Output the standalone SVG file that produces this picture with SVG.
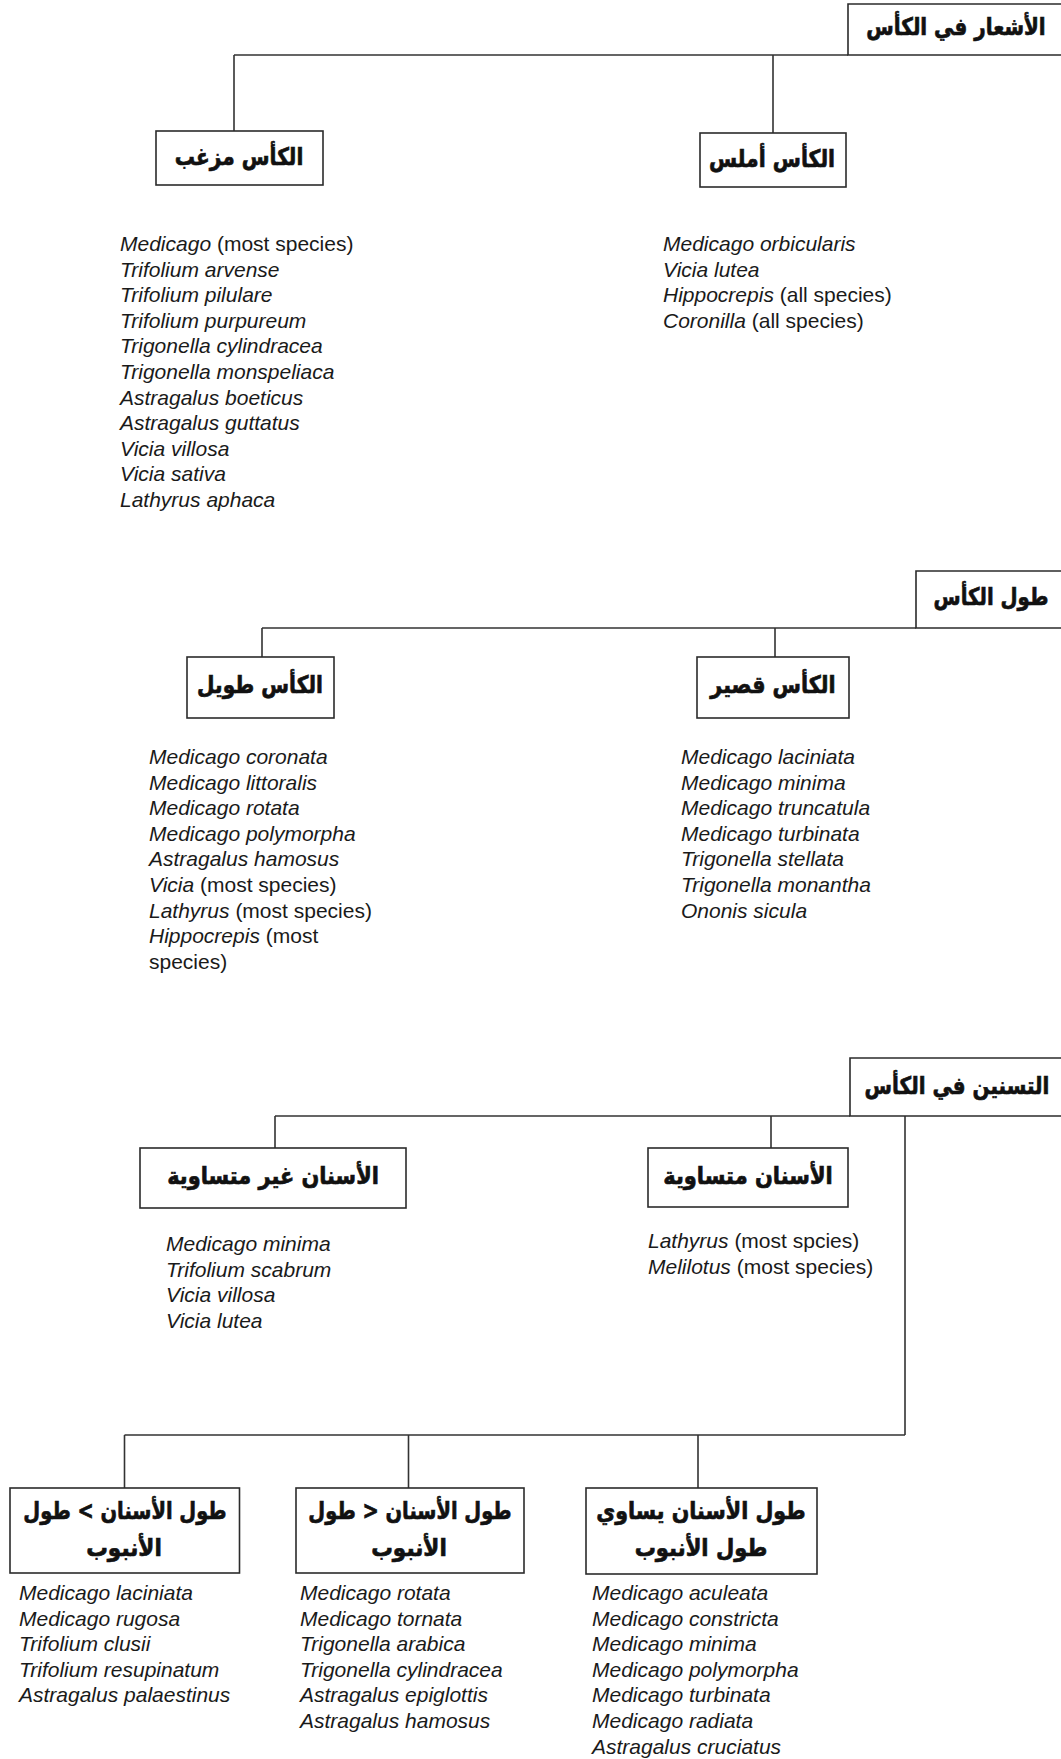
<svg xmlns="http://www.w3.org/2000/svg" width="1061" height="1759" viewBox="0 0 1061 1759">
<style>
.box{fill:#fff;stroke:#2b2b2b;stroke-width:1.6}
.ln{fill:none;stroke:#333;stroke-width:1.6}
.ar{font-family:"DejaVu Sans","Noto Sans",sans-serif;font-weight:bold;font-size:24px;fill:#111;stroke:#111;stroke-width:0.7;text-anchor:middle}
.rtl{direction:rtl}
.sp{font-family:"Liberation Sans",Arial,sans-serif;font-size:21px;font-style:italic;fill:#1a1a1a}
.n{font-style:normal}
</style>
<rect width="1061" height="1759" fill="#fff"/>
<g id="connectors">
<path class="ln" d="M234 55H848M234 55V131M773 55V133"/>
<path class="ln" d="M262 628H916M262 628V657M775 628V657"/>
<path class="ln" d="M275 1116H850M275 1116V1148M771 1116V1148M905 1116V1435M124.5 1435H905M124.5 1435V1488M408.5 1435V1488M698 1435V1488"/>
</g>
<g id="n-hair">
<path class="box" d="M1061 4H848V55H1061"/>
<text class="ar" transform="translate(956 35) scale(0.83 1)">الأشعار في الكأس</text>
</g>
<g id="n-hairy">
<rect class="box" x="156" y="131" width="167" height="54"/>
<text class="ar" transform="translate(239 165) scale(0.84 1)">الكأس مزغب</text>
</g>
<g id="n-smooth">
<rect class="box" x="700" y="133" width="146" height="54"/>
<text class="ar" transform="translate(772 167) scale(0.85 1)">الكأس أملس</text>
</g>
<g id="list-hairy" class="sp">
<text x="120" y="251"><tspan>Medicago</tspan><tspan class="n"> (most species)</tspan></text>
<text x="120" y="276.6">Trifolium arvense</text>
<text x="120" y="302.2">Trifolium pilulare</text>
<text x="120" y="327.8">Trifolium purpureum</text>
<text x="120" y="353.4">Trigonella cylindracea</text>
<text x="120" y="379">Trigonella monspeliaca</text>
<text x="120" y="404.6">Astragalus boeticus</text>
<text x="120" y="430.2">Astragalus guttatus</text>
<text x="120" y="455.8">Vicia villosa</text>
<text x="120" y="481.4">Vicia sativa</text>
<text x="120" y="507">Lathyrus aphaca</text>
</g>
<g id="list-smooth" class="sp">
<text x="663" y="251">Medicago orbicularis</text>
<text x="663" y="276.6">Vicia lutea</text>
<text x="663" y="302.2"><tspan>Hippocrepis</tspan><tspan class="n"> (all species)</tspan></text>
<text x="663" y="327.8"><tspan>Coronilla</tspan><tspan class="n"> (all species)</tspan></text>
</g>
<g id="n-length">
<path class="box" d="M1061 571H916V628H1061"/>
<text class="ar" transform="translate(991 605) scale(0.82 1)">طول الكأس</text>
</g>
<g id="n-long">
<rect class="box" x="187" y="657" width="147" height="61"/>
<text class="ar" transform="translate(260 693) scale(0.84 1)">الكأس طويل</text>
</g>
<g id="n-short">
<rect class="box" x="697" y="657" width="152" height="61"/>
<text class="ar" transform="translate(773 693) scale(0.86 1)">الكأس قصير</text>
</g>
<g id="list-long" class="sp">
<text x="149" y="764">Medicago coronata</text>
<text x="149" y="789.6">Medicago littoralis</text>
<text x="149" y="815.2">Medicago rotata</text>
<text x="149" y="840.8">Medicago polymorpha</text>
<text x="149" y="866.4">Astragalus hamosus</text>
<text x="149" y="892"><tspan>Vicia</tspan><tspan class="n"> (most species)</tspan></text>
<text x="149" y="917.6"><tspan>Lathyrus</tspan><tspan class="n"> (most species)</tspan></text>
<text x="149" y="943.2"><tspan>Hippocrepis</tspan><tspan class="n"> (most</tspan></text>
<text x="149" y="968.8" class="n">species)</text>
</g>
<g id="list-short" class="sp">
<text x="681" y="764">Medicago laciniata</text>
<text x="681" y="789.6">Medicago minima</text>
<text x="681" y="815.2">Medicago truncatula</text>
<text x="681" y="840.8">Medicago turbinata</text>
<text x="681" y="866.4">Trigonella stellata</text>
<text x="681" y="892">Trigonella monantha</text>
<text x="681" y="917.6">Ononis sicula</text>
</g>
<g id="n-teeth">
<path class="box" d="M1061 1058H850V1116H1061"/>
<text class="ar" transform="translate(957 1094) scale(0.83 1)">التسنين في الكأس</text>
</g>
<g id="n-unequal">
<rect class="box" x="140" y="1148" width="266" height="60"/>
<text class="ar" transform="translate(273 1184) scale(0.87 1)">الأسنان غير متساوية</text>
</g>
<g id="n-equal">
<rect class="box" x="648" y="1148" width="200" height="59"/>
<text class="ar" transform="translate(748 1184) scale(0.875 1)">الأسنان متساوية</text>
</g>
<g id="list-unequal" class="sp">
<text x="166" y="1251">Medicago minima</text>
<text x="166" y="1276.6">Trifolium scabrum</text>
<text x="166" y="1302.2">Vicia villosa</text>
<text x="166" y="1327.8">Vicia lutea</text>
</g>
<g id="list-equal" class="sp">
<text x="648" y="1248"><tspan>Lathyrus</tspan><tspan class="n"> (most spcies)</tspan></text>
<text x="648" y="1273.6"><tspan>Melilotus</tspan><tspan class="n"> (most species)</tspan></text>
</g>
<g id="n-lt">
<rect class="box" x="10" y="1488" width="229.5" height="85"/>
<text class="ar rtl" transform="translate(125 1519) scale(0.81 1)">طول الأسنان &#x200E;&lt;&#x200E; طول</text>
<text class="ar" transform="translate(124 1556) scale(0.9 1)">الأنبوب</text>
</g>
<g id="n-gt">
<rect class="box" x="296" y="1488" width="228" height="85"/>
<text class="ar rtl" transform="translate(410 1519) scale(0.81 1)">طول الأسنان &#x200E;&gt;&#x200E; طول</text>
<text class="ar" transform="translate(409 1556) scale(0.9 1)">الأنبوب</text>
</g>
<g id="n-eq">
<rect class="box" x="586" y="1488" width="231" height="86"/>
<text class="ar" transform="translate(701 1519) scale(0.86 1)">طول الأسنان يساوي</text>
<text class="ar" transform="translate(701 1556) scale(0.88 1)">طول الأنبوب</text>
</g>
<g id="list-lt" class="sp">
<text x="19" y="1600">Medicago laciniata</text>
<text x="19" y="1625.6">Medicago rugosa</text>
<text x="19" y="1651.2">Trifolium clusii</text>
<text x="19" y="1676.8">Trifolium resupinatum</text>
<text x="19" y="1702.4">Astragalus palaestinus</text>
</g>
<g id="list-gt" class="sp">
<text x="300" y="1600">Medicago rotata</text>
<text x="300" y="1625.6">Medicago tornata</text>
<text x="300" y="1651.2">Trigonella arabica</text>
<text x="300" y="1676.8">Trigonella cylindracea</text>
<text x="300" y="1702.4">Astragalus epiglottis</text>
<text x="300" y="1728">Astragalus hamosus</text>
</g>
<g id="list-eq" class="sp">
<text x="592" y="1600">Medicago aculeata</text>
<text x="592" y="1625.6">Medicago constricta</text>
<text x="592" y="1651.2">Medicago minima</text>
<text x="592" y="1676.8">Medicago polymorpha</text>
<text x="592" y="1702.4">Medicago turbinata</text>
<text x="592" y="1728">Medicago radiata</text>
<text x="592" y="1753.6">Astragalus cruciatus</text>
</g>
</svg>
